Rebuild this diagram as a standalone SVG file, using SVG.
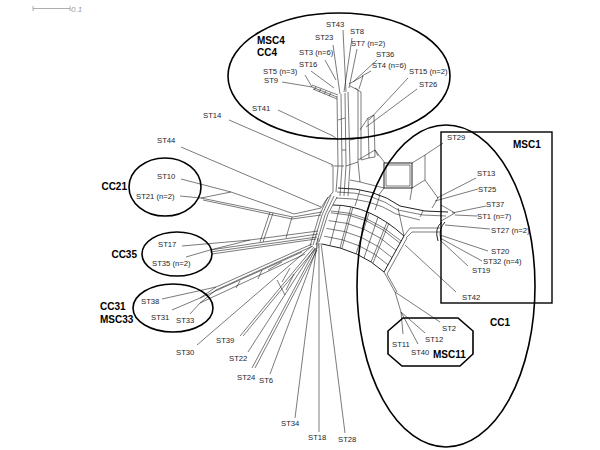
<svg xmlns="http://www.w3.org/2000/svg" width="600" height="450" viewBox="0 0 600 450">
<style>
.n{fill:none;stroke:#222;stroke-width:0.6;stroke-linejoin:round}
.d{fill:none;stroke:#222;stroke-width:1}
.l{font-family:"Liberation Sans",Arial,sans-serif;font-size:7.7px;fill:#262626}
.g{font-family:"Liberation Sans",Arial,sans-serif;font-size:10px;font-weight:bold;fill:#000}
.r{fill:none;stroke:#000;stroke-width:1.6}
</style>
<rect width="600" height="450" fill="#fff"/>
<g id="scale">
<path d="M33,8.5H70M33,6V11M70,6V11" fill="none" stroke="#999" stroke-width="0.8"/>
<text x="71" y="12" font-family="Liberation Sans,Arial,sans-serif" font-size="8" font-style="italic" fill="#999">0.1</text>
</g>
<g id="connectors">
<!-- top cluster leaves -->
<path class="n" d="M343,30L346,92M333,45L340,94M352,38L344,92M357,49L349,88M325,60L336,80M311,71L334,88M377,60L353,82M371,71L362,76M349,84L363,76L359,89M305,75L312,87M282,82L312,87"/>
<path class="n" d="M312,85L338,95M312,87L337,97M313,89L337,99M316,87L314,90M321,89L319,92M326,91L324,94M331,93L329,96"/>
<path class="n" d="M278,110L333,136M408,78L369,120M417,89L366,127"/>
<!-- trunk -->
<path class="n" d="M336,192L338,166L337,96M340,196L342,166L341,94M344,196L346,166L345,93M348,196L350,165L348,92M333,136L338,140"/>
<path class="n" d="M346,166L358,162L358,90L350,86M361,160L361,92L355,88M338,120L345,118M350,140L358,138M342,150L346,150"/>
<path class="n" d="M360,130L368,118L374,115M368,118L369,158M374,115L375,157M369,158L375,157M361,160L369,158"/>
<!-- ST29 box -->
<path class="n" d="M358,160L375,150L385,163M360,182L384,188M358,162L360,182M350,180L360,182M375,150L378,156"/>
<rect class="d" x="384" y="163" width="28" height="25"/>
<rect class="n" x="386" y="165" width="24" height="21"/>
<path class="n" d="M412,163L425,155L443,143M412,188L425,180L425,155M425,180L438,198M476,178L437,198M478,189L435,201M438,198L432,208M384,188L378,196M412,188L410,200"/>
<!-- hub -->
<path class="n" d="M229,120L333,165M331,166L344,166M333,167L333,192Q325,200 321,208"/>
<path class="n" d="M181,147L321,207"/>
<path class="n" d="M313,245L322,215L331,195M316,245L325,215L334,196M319,242L328,214L337,197M310,246L319,216L328,197M318,238L318,248"/>
<!-- CC21 -->
<path class="n" d="M181,179L231,192M180,196L201,198M201,198L231,192M231,192L294,214M201,198L293,217M203,200L292,219M294,214L321,208M293,217L322,212M292,219L321,215"/>
<path class="n" d="M270,212L260,242M273,213L263,242M292,217L286,238"/>
<!-- CC35 -->
<path class="n" d="M182,246L250,240L318,231M186,257L210,250M210,250L250,240M210,250L318,234M210,252L317,237M212,254L316,239"/>
<!-- CC31 -->
<path class="n" d="M162,299L216,287M172,310L200,298M190,314L200,303M200,298L216,287M200,303L216,290M216,287L312,244M216,290L313,246M200,298L302,252M200,303L305,254M240,281L236,288M262,270L258,279"/>
<!-- lower fan -->
<path class="n" d="M197,345L312,246M240,336L314,247M243,336L315,249M248,352L315,248M252,368L316,248M255,368L317,250M270,374L317,248M295,418L317,243M319,432L319,243M345,433L321,243"/>
<path class="n" d="M282,282L290,268M286,290L294,274M277,280L285,295M268,270L282,262"/>
<!-- right arc band -->
<path class="d" d="M333,205Q370,205 404,236"/>
<path class="n" d="M331,211Q368,212 401,241M330.8,212.8Q368,214 400,243.2M328.6,220.6Q366,223 396,250.4M326.4,228.4Q364,232 392,257.6M324.2,236.2Q362,241 388,264.8"/>
<path class="d" d="M322,244Q360,250 384,272"/>
<path class="d" d="M404,236L384,272"/>
<path class="n" d="M407,238L387,274M351,207L340,248M353,207L342,248M369,213L356,254M387,222L371,262M389,223L373,263M340,206L330,245M378,217L364,258"/>
<!-- outer band to ST1 -->
<path class="d" d="M338,188Q375,188 400,206L425,211L448,212"/>
<path class="n" d="M337,192Q373,192 398,210L423,215L446,216M336,198Q371,198 396,214L420,220M360,190L355,206M380,195L375,210M398,208L404,236M423,211L420,217"/>
<path class="n" d="M404,236L410,228L440,228M406,238L412,232L440,232M441,205L455,213L441,221M486,206L452,213M477,216L455,215M490,229L445,225M488,251L440,235M482,261L440,238M468,266L440,240"/>
<path class="d" d="M442,222Q434,228 438,241M445,222Q438,229 441,240"/>
<!-- lower right -->
<path class="n" d="M456,292L405,245M384,272L395,292M387,274L397,292M395,292L440,322M395,292L401,312M401,312L425,333M401,312L403,334M401,312L418,344"/>
</g>
<g id="MSC4_CC4">
<ellipse class="r" cx="339" cy="76" rx="111" ry="63"/>
<text class="g" x="257" y="44">MSC4</text>
<text class="g" x="257" y="56">CC4</text>
</g>
<g id="MSC1">
<rect x="441" y="132" width="111" height="171" fill="none" stroke="#000" stroke-width="1.4"/>
<text class="g" x="513" y="148">MSC1</text>
</g>
<g id="CC1">
<ellipse class="r" cx="446" cy="286" rx="89" ry="161"/>
<text class="g" x="490" y="326">CC1</text>
</g>
<g id="MSC11">
<polygon points="403,318 458,318 473,331 473,354 460,366 402,366 388,354 388,331" fill="none" stroke="#000" stroke-width="1.6"/>
<text class="g" x="433" y="358">MSC11</text>
</g>
<g id="CC21">
<ellipse class="r" cx="165" cy="187" rx="36" ry="29"/>
<text class="g" x="127" y="190" text-anchor="end">CC21</text>
</g>
<g id="CC35">
<ellipse class="r" cx="177" cy="254" rx="35" ry="22"/>
<text class="g" x="137" y="258" text-anchor="end">CC35</text>
</g>
<g id="CC31_MSC33">
<ellipse class="r" cx="173" cy="308" rx="40" ry="24"/>
<text class="g" x="100" y="310">CC31</text>
<text class="g" x="100" y="323">MSC33</text>
</g>
<g id="labels">
<text class="l" x="326" y="27">ST43</text>
<text class="l" x="350" y="34">ST8</text>
<text class="l" x="315" y="40">ST23</text>
<text class="l" x="351" y="46">ST7 (n=2)</text>
<text class="l" x="299" y="55">ST3 (n=6)</text>
<text class="l" x="376" y="57">ST36</text>
<text class="l" x="299" y="67">ST16</text>
<text class="l" x="263" y="74">ST5 (n=3)</text>
<text class="l" x="372" y="68">ST4 (n=6)</text>
<text class="l" x="409" y="74">ST15 (n=2)</text>
<text class="l" x="264" y="83">ST9</text>
<text class="l" x="419" y="87">ST26</text>
<text class="l" x="252" y="111">ST41</text>
<text class="l" x="203" y="118">ST14</text>
<text class="l" x="157" y="143">ST44</text>
<text class="l" x="157" y="179">ST10</text>
<text class="l" x="136" y="199">ST21 (n=2)</text>
<text class="l" x="158" y="247">ST17</text>
<text class="l" x="152" y="266">ST35 (n=2)</text>
<text class="l" x="141" y="304">ST38</text>
<text class="l" x="151" y="320">ST31</text>
<text class="l" x="176" y="323">ST33</text>
<text class="l" x="216" y="343">ST39</text>
<text class="l" x="176" y="355">ST30</text>
<text class="l" x="229" y="361">ST22</text>
<text class="l" x="237" y="380">ST24</text>
<text class="l" x="259" y="383">ST6</text>
<text class="l" x="281" y="426">ST34</text>
<text class="l" x="308" y="440">ST18</text>
<text class="l" x="338" y="442">ST28</text>
<text class="l" x="447" y="140">ST29</text>
<text class="l" x="477" y="176">ST13</text>
<text class="l" x="478" y="192">ST25</text>
<text class="l" x="486" y="207">ST37</text>
<text class="l" x="477" y="219">ST1 (n=7)</text>
<text class="l" x="491" y="233">ST27 (n=2)</text>
<text class="l" x="491" y="254">ST20</text>
<text class="l" x="483" y="264">ST32 (n=4)</text>
<text class="l" x="472" y="273">ST19</text>
<text class="l" x="462" y="300">ST42</text>
<text class="l" x="442" y="331">ST2</text>
<text class="l" x="425" y="342">ST12</text>
<text class="l" x="392" y="347">ST11</text>
<text class="l" x="411" y="355">ST40</text>
</g>
</svg>
